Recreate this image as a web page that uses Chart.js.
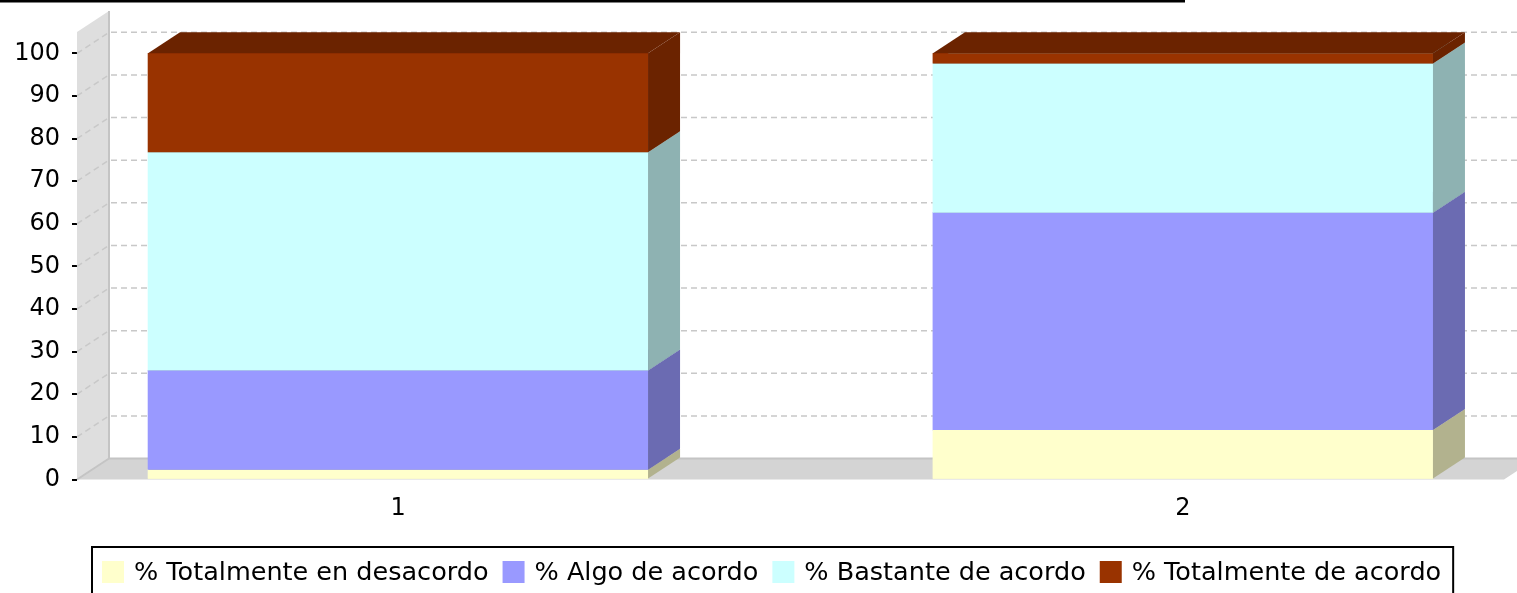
<!DOCTYPE html>
<html>
<head>
<meta charset="utf-8">
<script src="https://cdn.jsdelivr.net/npm/chart.js@4.4.1/dist/chart.umd.min.js"></script>
<style>
  html, body { margin: 0; padding: 0; background: #fff; overflow: hidden; }
  #wrap { position: relative; width: 1517px; height: 593px; }
</style>
</head>
<body>
<div id="wrap"><canvas id="chart"></canvas></div>
<script>
// datos (porcentajes)
const categories = ['1', '2'];
const totalmenteDesacordo = [2.3, 11.6];
const algoAcordo = [23.3, 51.0];
const bastanteAcordo = [51.2, 35.0];
const totalmenteAcordo = [23.2, 2.4];
const yTicks = [0, 10, 20, 30, 40, 50, 60, 70, 80, 90, 100];

const seriesNames = ['% Totalmente en desacordo', '% Algo de acordo', '% Bastante de acordo', '% Totalmente de acordo'];
const seriesValues = [totalmenteDesacordo, algoAcordo, bastanteAcordo, totalmenteAcordo];
const seriesColors = ['#FFFFCC', '#9999FF', '#CCFFFF', '#993300'];

const DX = 32, DY = 21;   // profundidad 3D
const FONT = 'DejaVu Sans';

function darker(hex) {
  const n = parseInt(hex.slice(1), 16);
  const r = Math.floor(((n >> 16) & 255) * 0.7), g = Math.floor(((n >> 8) & 255) * 0.7), b = Math.floor((n & 255) * 0.7);
  return `rgb(${r},${g},${b})`;
}

function poly(ctx, pts, fill) {
  ctx.beginPath();
  ctx.moveTo(pts[0][0], pts[0][1]);
  for (let i = 1; i < pts.length; i++) ctx.lineTo(pts[i][0], pts[i][1]);
  ctx.closePath();
  ctx.fillStyle = fill;
  ctx.fill();
}

// paredes, suelo, rejilla, barras 3D y leyenda
const backdrop3d = {
  id: 'backdrop3d',
  beforeDatasetsDraw(chart) {
    const { ctx, chartArea: a, scales: { y } } = chart;
    ctx.save();
    poly(ctx, [[a.left, a.bottom], [a.left, a.top], [a.left + DX, a.top - DY], [a.left + DX, a.bottom - DY]], '#dedede');
    poly(ctx, [[a.left, a.bottom], [a.left + DX, a.bottom - DY], [a.right + DX, a.bottom - DY], [a.right, a.bottom]], '#d4d4d4');

    ctx.strokeStyle = '#c4c4c4';
    ctx.lineWidth = 2;
    ctx.beginPath();
    ctx.moveTo(a.left + DX, a.top - DY);
    ctx.lineTo(a.left + DX, a.bottom - DY);
    ctx.lineTo(a.right + DX, a.bottom - DY);
    ctx.moveTo(a.left, a.bottom);
    ctx.lineTo(a.left + DX, a.bottom - DY);
    ctx.stroke();

    ctx.strokeStyle = '#c8c8c8';
    ctx.lineWidth = 1.5;
    ctx.setLineDash([6, 4]);
    yTicks.forEach(v => {
      if (v === 0) return;
      const py = y.getPixelForValue(v);
      ctx.beginPath();
      ctx.moveTo(a.left, py);
      ctx.lineTo(a.left + DX, py - DY);
      ctx.moveTo(a.left + DX + 2, py - DY);
      ctx.lineTo(a.right + DX, py - DY);
      ctx.stroke();
    });
    ctx.restore();
  },
  afterDatasetsDraw(chart) {
    const { ctx } = chart;
    ctx.save();
    categories.forEach((c, j) => {
      chart.data.datasets.forEach((ds, i) => {
        const bar = chart.getDatasetMeta(i).data[j];
        const x0 = bar.x - bar.width / 2, x1 = bar.x + bar.width / 2;
        const yt = bar.y, yb = bar.base;
        const dark = darker(seriesColors[i]);
        poly(ctx, [[x0, yb], [x0, yt], [x1, yt], [x1, yb]], seriesColors[i]);
        poly(ctx, [[x1, yb], [x1, yt], [x1 + DX, yt - DY], [x1 + DX, yb - DY]], dark);
        poly(ctx, [[x0, yt], [x1, yt], [x1 + DX, yt - DY], [x0 + DX, yt - DY]], dark);
      });
    });
    ctx.restore();
  },
  afterDraw(chart) {
    const { ctx } = chart;
    ctx.save();
    // línea superior recortada
    ctx.strokeStyle = '#000';
    ctx.lineWidth = 3;
    ctx.beginPath();
    ctx.moveTo(0, 1);
    ctx.lineTo(1185, 1);
    ctx.stroke();

    // leyenda con marco
    ctx.font = `25.5px "${FONT}"`;
    ctx.textBaseline = 'middle';
    let x = 102;
    const swTop = 561, sw = 22, midY = 572;
    seriesNames.forEach((name, i) => {
      ctx.fillStyle = seriesColors[i];
      ctx.fillRect(x, swTop, sw, sw);
      x += sw + 10;
      ctx.fillStyle = '#000';
      ctx.fillText(name, x, midY + 1);
      x += ctx.measureText(name).width + (i < seriesNames.length - 1 ? 14 : 0);
    });
    ctx.lineWidth = 2;
    ctx.strokeStyle = '#000';
    ctx.strokeRect(92, 547, x + 12 - 92, 100);
    ctx.restore();
  }
};

const datasets = seriesNames.map((name, i) => ({
  label: name,
  data: seriesValues[i].map((v, j) => ({ x: j + 1, y: v })),
  backgroundColor: seriesColors[i],
  borderWidth: 0,
  barThickness: 500
}));

new Chart(document.getElementById('chart'), {
  type: 'bar',
  data: { datasets },
  options: {
    responsive: true,
    maintainAspectRatio: false,
    animation: false,
    layout: { padding: { top: 32, right: 13, left: 0, bottom: 0 } },
    plugins: {
      tooltip: { enabled: false },
      legend: { display: false }
    },
    scales: {
      x: {
        type: 'linear',
        stacked: true,
        offset: false,
        min: 0.591,
        max: 2.409,
        grid: { display: false, offset: false },
        border: { display: false },
        afterBuildTicks: s => { s.ticks = categories.map((c, j) => ({ value: j + 1 })); },
        afterFit: s => { s.height = 113.5; },
        ticks: {
          padding: 7,
          color: '#000',
          font: { family: FONT, size: 24 },
          callback: v => categories[v - 1]
        }
      },
      y: {
        stacked: true,
        min: 0,
        max: 105,
        afterBuildTicks: s => { s.ticks = yTicks.map(v => ({ value: v })); },
        afterFit: s => { s.width = 77; },
        grid: { drawOnChartArea: false, drawTicks: true, tickLength: 5, color: '#000', lineWidth: 2 },
        border: { display: false },
        ticks: {
          padding: 12,
          color: '#000',
          font: { family: FONT, size: 24 }
        }
      }
    }
  },
  plugins: [backdrop3d]
});
</script>
</body>
</html>
